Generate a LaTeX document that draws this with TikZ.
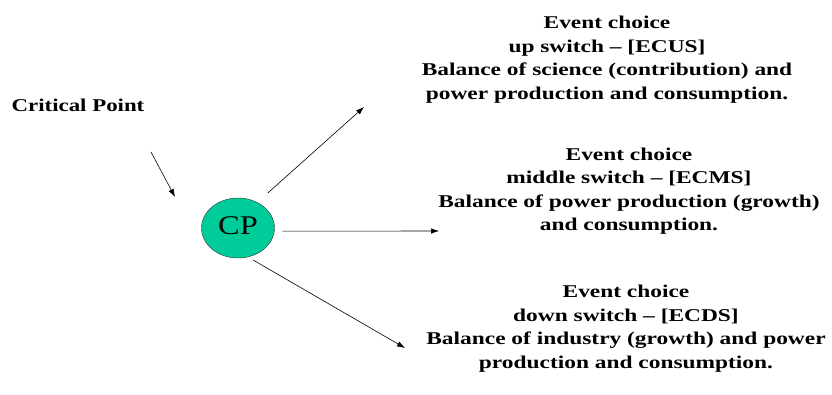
\documentclass[tikz,border=0pt]{standalone}
\usepackage{fontspec}
\setmainfont{Liberation Serif}[Ligatures=TeX]
\usepackage{graphicx}
\usepackage{xcolor}
\usepackage{tikz}
\usetikzlibrary{arrows.meta}
\usetikzlibrary{shapes.geometric}
\definecolor{cpgreen}{HTML}{00CC99}
\newcommand\widetext[2][1.3]{\scalebox{#1}[1]{\begin{tabular}{@{}c@{}}#2\end{tabular}}}
\tikzset{
  choice/.style={inner sep=0pt,font=\bfseries\fontsize{18}{23.5}\selectfont},
  arr/.style={-{Latex[length=8pt,width=5.5pt]},line width=0.6pt}
}

\begin{document}
\begin{tikzpicture}[x=1pt,y=-1pt]
	  \useasboundingbox (0,0) rectangle (832,394);
	  \node[ellipse,draw=black!80,fill=cpgreen,minimum width=73pt,minimum height=60pt,inner sep=0pt,
	        font=\fontsize{27}{30}\selectfont] (cp) at (238,228) {\widetext[1.2]{CP}};
	  \node[choice] (critical) at (78,107) {\widetext[1.27]{Critical Point}};
	  \node[choice] (ecus) at (607,59.5) {\widetext{Event choice\\ up switch \textendash{} [ECUS]\\
	    Balance of science (contribution) and\\ power production and consumption.}};
	  \node[choice] (ecms) at (629,191) {\widetext{Event choice\\ middle switch \textendash{} [ECMS]\\
	    Balance of power production (growth)\\ and consumption.}};
	  \node[choice] (ecds) at (626,328.5) {\widetext{Event choice\\ down switch \textendash{} [ECDS]\\
	    Balance of industry (growth) and power\\ production and consumption.}};
	  % arrow ends
	  \coordinate (intail) at (151,152);
	  \coordinate (inhead) at (175,197);
	  \coordinate (uphead) at (364,107);
	  \coordinate (midhead) at (439,231);
	  \coordinate (downhead) at (405,348);
	  \draw[arr] (intail) -- (inhead);
	  \draw[arr,shorten <=14pt] (cp.53) -- (uphead);
	  \draw[arr,shorten <=8pt] (cp.-5) -- (midhead);
	  \draw[arr,shorten <=6pt] (cp.-71) -- (downhead);
	\end{tikzpicture}
\end{document}
